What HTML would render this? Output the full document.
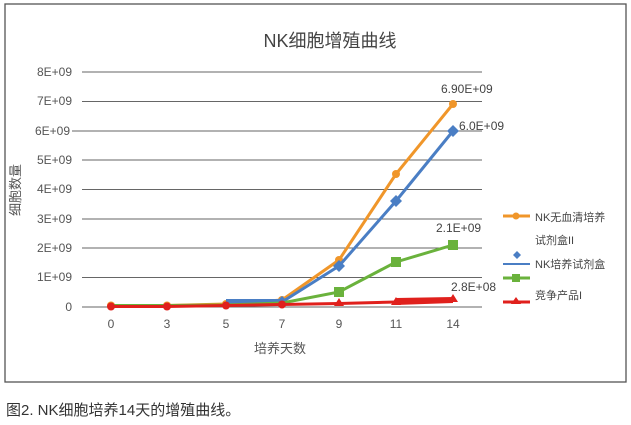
<!DOCTYPE html>
<html><head><meta charset="utf-8"><style>
body{margin:0;background:#fff;width:631px;height:420px;overflow:hidden}
svg text{font-family:"Liberation Sans","Noto Sans CJK SC",sans-serif}
</style></head><body>
<svg width="631" height="420" viewBox="0 0 631 420">
<rect x="5" y="4" width="621" height="378" fill="#fff" stroke="#555" stroke-width="1.3"/>
<text x="330" y="47" font-size="18" fill="#444" text-anchor="middle">NK细胞增殖曲线</text>
<g stroke="#666" stroke-width="1">
<line x1="82" y1="72" x2="482" y2="72"/><line x1="82" y1="101.5" x2="482" y2="101.5"/>
<line x1="72" y1="131" x2="482" y2="131"/><line x1="82" y1="160" x2="482" y2="160"/>
<line x1="82" y1="189.5" x2="482" y2="189.5"/><line x1="82" y1="219" x2="482" y2="219"/>
<line x1="82" y1="248" x2="482" y2="248"/><line x1="82" y1="277.5" x2="482" y2="277.5"/>
<line x1="82" y1="307" x2="482" y2="307"/>
</g>
<g font-size="12" fill="#555" text-anchor="end">
<text x="72" y="76">8E+09</text><text x="72" y="105">7E+09</text><text x="70" y="135">6E+09</text>
<text x="72" y="164">5E+09</text><text x="72" y="193">4E+09</text><text x="72" y="223">3E+09</text>
<text x="72" y="252">2E+09</text><text x="72" y="281">1E+09</text><text x="72" y="311">0</text>
</g>
<text transform="translate(20,190) rotate(-90)" font-size="13" fill="#555" text-anchor="middle">细胞数量</text>
<g font-size="12" fill="#555" text-anchor="middle">
<text x="111" y="328">0</text><text x="167" y="328">3</text><text x="226" y="328">5</text>
<text x="282" y="328">7</text><text x="339" y="328">9</text><text x="396" y="328">11</text><text x="453" y="328">14</text>
</g>
<text x="280" y="353" font-size="13" fill="#555" text-anchor="middle">培养天数</text>
<!-- orange -->
<polyline fill="none" stroke="#f0962a" stroke-width="3" points="111,305.5 167,305.5 226,304 282,300 339,260 396,174 453,104"/>
<g fill="#f0962a"><circle cx="111" cy="305.5" r="4"/><circle cx="167" cy="305.5" r="4"/><circle cx="226" cy="304" r="4"/><circle cx="282" cy="300" r="4"/><circle cx="339" cy="260" r="4"/><circle cx="396" cy="174" r="4"/><circle cx="453" cy="104" r="4"/></g>
<!-- blue -->
<polyline fill="none" stroke="#4a7ec4" stroke-width="3" points="339,266 396,201 453,131"/>
<rect x="226" y="299" width="56" height="6" fill="#4a7ec4"/>
<polyline fill="none" stroke="#4a7ec4" stroke-width="3" points="282,302 339,266"/>
<g fill="#4a7ec4"><path d="M339 260l6 6-6 6-6-6z"/><path d="M396 195l6 6-6 6-6-6z"/><path d="M453 125l6 6-6 6-6-6z"/><path d="M282 296l6 6-6 6-6-6z"/></g>
<!-- green -->
<polyline fill="none" stroke="#6ab23c" stroke-width="3" points="111,305.5 167,305.5 226,305 282,303 339,292 396,262 453,245"/>
<g fill="#6ab23c"><rect x="334" y="287" width="10" height="10"/><rect x="391" y="257" width="10" height="10"/><rect x="448" y="240" width="10" height="10"/></g>
<!-- red -->
<polyline fill="none" stroke="#e0201c" stroke-width="3" points="111,306.5 167,306.5 226,305.5 282,304.5 339,303.5 396,302"/>
<polygon points="396,298 453,297 453,303 396,305" fill="#e0201c"/>
<g fill="#e0201c"><circle cx="111" cy="306.5" r="4"/><circle cx="167" cy="306.5" r="4"/><circle cx="226" cy="305.5" r="4"/><circle cx="282" cy="304.5" r="4"/><path d="M339 298l5 8h-10z"/><path d="M396 297l5 8h-10z"/><path d="M453 294l5 8h-10z"/></g>
<g font-size="12" fill="#444">
<text x="441" y="93">6.90E+09</text><text x="459" y="130">6.0E+09</text>
<text x="436" y="232">2.1E+09</text><text x="451" y="291">2.8E+08</text>
</g>
<!-- legend -->
<line x1="503" y1="216" x2="530" y2="216" stroke="#f0962a" stroke-width="3"/><circle cx="516" cy="216" r="3.5" fill="#f0962a"/>
<text x="535" y="221" font-size="11" fill="#444">NK无血清培养</text>
<text x="535" y="244" font-size="11" fill="#444">试剂盒II</text>
<path d="M517 251l4 4-4 4-4-4z" fill="#4a7ec4"/>
<line x1="503" y1="264" x2="530" y2="264" stroke="#4a7ec4" stroke-width="2"/>
<text x="535" y="268" font-size="11" fill="#444">NK培养试剂盒</text>
<line x1="503" y1="278" x2="530" y2="278" stroke="#6ab23c" stroke-width="3"/><rect x="512" y="274" width="8" height="8" fill="#6ab23c"/>
<line x1="503" y1="302" x2="530" y2="302" stroke="#e0201c" stroke-width="3"/><path d="M516 297l5 7h-10z" fill="#e0201c"/>
<text x="535" y="299" font-size="11" fill="#444">竞争产品I</text>
<text x="6" y="415" font-size="15" fill="#333">图2. NK细胞培养14天的增殖曲线。</text>
</svg>
</body></html>
